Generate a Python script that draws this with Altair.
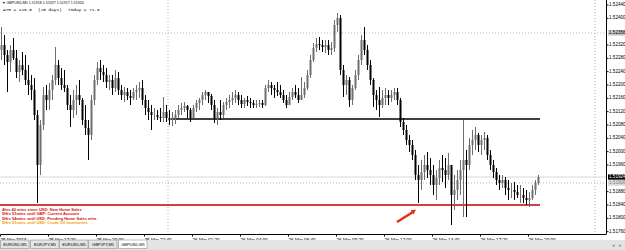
import json
import altair as alt
import pandas as pd

# ---------------- data ----------------
time_labels = ["25 Mar 2013", "25 Mar 16:00", "25 Mar 17:20", "25 Mar 18:40", "25 Mar 20:00",
               "25 Mar 21:20", "25 Mar 22:40", "26 Mar 00:00", "26 Mar 01:20", "26 Mar 02:40",
               "26 Mar 04:00", "26 Mar 05:20", "26 Mar 06:40", "26 Mar 08:00", "26 Mar 09:20",
               "26 Mar 10:40", "26 Mar 12:00", "26 Mar 13:20", "26 Mar 14:40", "26 Mar 16:00",
               "26 Mar 17:20", "26 Mar 18:40", "26 Mar 20:00"]
time_tick_pos = [0, 8, 16, 24, 32, 40, 48, 56, 64, 72, 80, 88, 96, 104, 112, 120,
                 128, 136, 144, 152, 160, 168, 176]
price_ticks = [1.52440, 1.52400, 1.52360, 1.52320, 1.52280, 1.52240, 1.52200, 1.52160,
               1.52120, 1.52080, 1.52040, 1.52000, 1.51960, 1.51920, 1.51880, 1.51840,
               1.51800, 1.51760]

first_open = 152305
high_pts = [
    152374, 152350, 152305, 152320, 152341, 152305, 152275, 152299, 152290, 152260,
    152230, 152221, 152125, 152095, 152194, 152200, 152206, 152230, 152314, 152275,
    152251, 152245, 152200, 152170, 152185, 152200, 152215, 152161, 152140, 152095,
    152170, 152230, 152269, 152275, 152260, 152251, 152230, 152230, 152245, 152239,
    152200, 152194, 152191, 152185, 152191, 152200, 152209, 152215, 152170, 152155,
    152140, 152131, 152125, 152131, 152164, 152140, 152125, 152119, 152125, 152140,
    152146, 152149, 152140, 152131, 152140, 152155, 152161, 152179, 152185, 152179,
    152173, 152155, 152131, 152155, 152149, 152161, 152170, 152179, 152185, 152179,
    152170, 152161, 152167, 152161, 152155, 152155, 152155, 152155, 152200, 152215,
    152209, 152200, 152209, 152200, 152185, 152170, 152179, 152191, 152200, 152191,
    152224, 152209, 152245, 152290, 152326, 152341, 152344, 152335, 152335, 152335,
    152329, 152395, 152416, 152410, 152260, 152230, 152224, 152200, 152245, 152290,
    152350, 152374, 152320, 152275, 152221, 152185, 152194, 152185, 152191, 152185,
    152185, 152191, 152191, 152161, 152101, 152080, 152050, 152035, 152005, 151960,
    151975, 151990, 151999, 151981, 151960, 151945, 151975, 151990, 151981, 151996,
    151960, 151930, 151945, 151975, 152095, 152005, 152041, 152065, 152074, 152056,
    152050, 152059, 152050, 152005, 151975, 151951, 151930, 151930, 151924, 151915,
    151906, 151909, 151900, 151900, 151891, 151885, 151879, 151900, 151915, 151930]
low_pts = [
    152275, 152260, 152179, 152239, 152275, 152221, 152209, 152230, 152200, 152170,
    152155, 152095, 151846, 151930, 152065, 152125, 152125, 152155, 152200, 152200,
    152185, 152179, 152125, 152074, 152101, 152110, 152140, 152080, 152050, 151975,
    152035, 152140, 152200, 152215, 152209, 152191, 152185, 152170, 152179, 152170,
    152155, 152149, 152155, 152140, 152155, 152155, 152161, 152140, 152110, 152095,
    152065, 152095, 152095, 152089, 152089, 152089, 152080, 152077, 152083, 152101,
    152110, 152119, 152101, 152089, 152110, 152119, 152125, 152140, 152155, 152146,
    152125, 152086, 152080, 152095, 152101, 152125, 152131, 152140, 152146, 152140,
    152131, 152131, 152137, 152131, 152131, 152131, 152134, 152131, 152137, 152179,
    152170, 152161, 152167, 152161, 152146, 152131, 152140, 152155, 152161, 152146,
    152155, 152161, 152185, 152221, 152269, 152299, 152305, 152299, 152296, 152290,
    152290, 152299, 152359, 152230, 152164, 152170, 152134, 152140, 152185, 152215,
    152260, 152290, 152245, 152200, 152134, 152125, 152104, 152131, 152140, 152140,
    152149, 152155, 152140, 152074, 152050, 152020, 151999, 151975, 151915, 151846,
    151885, 151915, 151921, 151900, 151870, 151855, 151900, 151909, 151891, 151915,
    151780, 151825, 151855, 151870, 151804, 151804, 151945, 151990, 152005, 151999,
    151990, 152005, 151975, 151945, 151921, 151900, 151885, 151891, 151870, 151855,
    151861, 151855, 151861, 151846, 151846, 151840, 151834, 151855, 151870, 151900]
close_pts = [
    152320, 152290, 152269, 152305, 152281, 152239, 152260, 152245, 152215, 152200,
    152185, 152110, 151960, 152080, 152170, 152155, 152185, 152215, 152260, 152221,
    152200, 152191, 152140, 152125, 152155, 152170, 152155, 152095, 152071, 152050,
    152155, 152215, 152251, 152239, 152230, 152209, 152215, 152191, 152221, 152185,
    152170, 152179, 152167, 152161, 152179, 152185, 152191, 152155, 152131, 152119,
    152110, 152110, 152104, 152101, 152119, 152101, 152095, 152101, 152110, 152125,
    152131, 152137, 152125, 152101, 152131, 152146, 152155, 152170, 152179, 152167,
    152140, 152101, 152119, 152110, 152140, 152149, 152155, 152161, 152170, 152155,
    152143, 152155, 152149, 152146, 152140, 152143, 152146, 152140, 152191, 152200,
    152191, 152185, 152179, 152170, 152155, 152140, 152164, 152179, 152170, 152155,
    152170, 152191, 152230, 152275, 152311, 152323, 152320, 152314, 152320, 152305,
    152311, 152380, 152401, 152245, 152200, 152215, 152155, 152191, 152230, 152275,
    152335, 152305, 152260, 152215, 152170, 152155, 152140, 152161, 152170, 152161,
    152170, 152179, 152155, 152089, 152065, 152035, 152020, 151990, 151930, 151915,
    151939, 151960, 151945, 151930, 151900, 151921, 151951, 151945, 151930, 151960,
    151870, 151885, 151915, 151945, 151975, 151960, 152020, 152035, 152050, 152020,
    152035, 152041, 151990, 151960, 151939, 151915, 151906, 151915, 151891, 151885,
    151885, 151879, 151870, 151870, 151861, 151855, 151861, 151885, 151906, 151924]

red_level = 1.51840
black_level = 1.52098
black_span = [57, 180]
dotted_level = 1.52356
bid_level = 1.51924
second_level = 1.51906
vlines = [56, 198.3]

news_lines = ["4hrs 42 mins since USD: New Home Sales",
              "5Hrs 51mins until GBP: Current Account",
              "5Hrs 54mins until USD: Pending Home Sales m/m",
              "5Hrs 51mins until USD: Crude Oil Inventories"]
news_colors = ["#d01010", "#d01010", "#d01010", "#f0a000"]
tabs = ["EURUSD,M5", "EURJPY,M5", "EURUSD,M5", "GBPJPY,M5", "GBPUSD,M5"]

# ---------------- table ----------------
opens = [first_open] + close_pts[:-1]
df = pd.DataFrame({
    "xc": [i + 0.5 for i in range(len(close_pts))],
    "open": [v / 1e5 for v in opens],
    "close": [v / 1e5 for v in close_pts],
    "high": [v / 1e5 for v in high_pts],
    "low": [v / 1e5 for v in low_pts],
})
df["dir"] = ["up" if c >= o else "down" for o, c in zip(df["open"], df["close"])]

FONT = "Liberation Sans"
W, H = 606, 234
xs = alt.Scale(domain=[0, 202], nice=False, zero=False)
ys = alt.Scale(domain=[1.51753, 1.52455], nice=False, zero=False)

xaxis = alt.Axis(values=time_tick_pos, labelExpr=f"{json.dumps(time_labels)}[round(datum.value/8)]",
                 orient="bottom", labelAlign="left", labelFontSize=4.6, labelFont=FONT,
                 tickSize=2, labelPadding=1, grid=False, title=None, labelFlush=False,
                 labelOverlap=False, domainColor="#000", tickColor="#000", labelColor="#000")

color = alt.Color("dir:N", scale=alt.Scale(domain=["up", "down"], range=["#6e6e6e", "#000000"]),
                  legend=None)

wick = alt.Chart(df).mark_rule(strokeWidth=1).encode(
    x=alt.X("xc:Q", scale=xs, axis=xaxis),
    y=alt.Y("low:Q", scale=ys, axis=None),
    y2="high:Q", color=color)
body = alt.Chart(df).mark_rule(strokeWidth=2).encode(
    x=alt.X("xc:Q", scale=xs), y=alt.Y("open:Q", scale=ys, axis=None), y2="close:Q", color=color)

one = pd.DataFrame({"a": [0]})

hdot = alt.Chart(pd.DataFrame({"y": [dotted_level, second_level]})).mark_rule(
    color="#b8b8b8", strokeWidth=1, strokeDash=[1, 2]).encode(
    y=alt.Y("y:Q", scale=ys, axis=None), x=alt.value(0), x2=alt.value(W))
hbid = alt.Chart(pd.DataFrame({"y": [bid_level]})).mark_rule(
    color="#d8d8d8", strokeWidth=1).encode(
    y=alt.Y("y:Q", scale=ys, axis=None), x=alt.value(0), x2=alt.value(W))
vdot = alt.Chart(pd.DataFrame({"x": vlines})).mark_rule(
    color="#b0b0b0", strokeWidth=1, strokeDash=[1, 2]).encode(
    x=alt.X("x:Q", scale=xs), y=alt.value(0), y2=alt.value(H))
red = alt.Chart(pd.DataFrame({"y": [red_level], "x1": [0], "x2": [black_span[1]]})).mark_rule(
    color="#c00000", strokeWidth=1.3).encode(
    y=alt.Y("y:Q", scale=ys, axis=None), x=alt.X("x1:Q", scale=xs), x2="x2:Q")
black = alt.Chart(pd.DataFrame({"y": [black_level], "x1": [black_span[0]], "x2": [black_span[1]]})).mark_rule(
    color="#000000", strokeWidth=1.5).encode(
    y=alt.Y("y:Q", scale=ys, axis=None), x=alt.X("x1:Q", scale=xs), x2="x2:Q")

# right price scale drawn by hand (axis line, ticks, labels)
tag_prices = [dotted_level, second_level, bid_level]
shown_ticks = [t for t in price_ticks if all(abs(t - p) > 0.00012 for p in tag_prices)]
tick_df = pd.DataFrame({"p": shown_ticks})
tick_df["label"] = [f"{v:.5f}" for v in tick_df["p"]]
axis_line = alt.Chart(one).mark_rule(color="#000", strokeWidth=1).encode(
    x=alt.value(W + 0.5), y=alt.value(0), y2=alt.value(H))
tick_marks = alt.Chart(tick_df).mark_rule(color="#000", strokeWidth=1).encode(
    y=alt.Y("p:Q", scale=ys, axis=None), x=alt.value(W + 0.5), x2=alt.value(W + 2.5))
tick_text = alt.Chart(tick_df).mark_text(align="left", baseline="middle", fontSize=4.6,
                                         font=FONT, color="#000").encode(
    y=alt.Y("p:Q", scale=ys, axis=None), x=alt.value(W + 3), text="label:N")

# price tags on the axis
tags = pd.DataFrame({
    "p": tag_prices,
    "fill": ["#c8c8c8", "#d8d8d8", "#000000"],
    "tc": ["#000000", "#888888", "#ffffff"],
})
tags["label"] = [f"{v:.5f}" for v in tags["p"]]
tag_rect = alt.Chart(tags).transform_calculate(
    top="datum.p + 0.00008", bot="datum.p - 0.00008").mark_rect().encode(
    y=alt.Y("top:Q", scale=ys, axis=None), y2="bot:Q", x=alt.value(W + 2), x2=alt.value(W + 19),
    color=alt.Color("fill:N", scale=None))
tag_text = alt.Chart(tags).mark_text(align="left", baseline="middle", fontSize=4.6, font=FONT).encode(
    y=alt.Y("p:Q", scale=ys, axis=None), x=alt.value(W + 3), text="label:N",
    color=alt.Color("tc:N", scale=None))


def txt(s, x, y, size=4.5, color="#000", font=FONT, weight="normal", align="left"):
    return alt.Chart(one).mark_text(text=s, fontSize=size, color=color, font=font,
                                    fontWeight=weight, align=align, baseline="middle").encode(
        x=alt.value(x), y=alt.value(y))


def rect(x1, x2, y1, y2, fill, stroke=None):
    kw = {"fill": fill}
    if stroke:
        kw["stroke"] = stroke
        kw["strokeWidth"] = 0.6
    return alt.Chart(one).mark_rect(**kw).encode(
        x=alt.value(x1), x2=alt.value(x2), y=alt.value(y1), y2=alt.value(y2))


layers = [vdot, hdot, hbid, red, black, wick, body, axis_line, tick_marks, tick_text,
          tag_rect, tag_text]

# header texts
layers.append(txt("\u25bc GBPUSD,M5  1.51918 1.51927 1.51917 1.51924", 2, 2.5, size=3.6))
layers.append(txt("ATR = 116.0", 3, 10, size=4.4, font="Liberation Mono"))
layers.append(txt("(20 days)", 38, 10, size=4.4, font="Liberation Mono"))
layers.append(txt("Today = 71.6", 68, 10, size=4.4, font="Liberation Mono"))

# news lines
for k, (s, c) in enumerate(zip(news_lines, news_colors)):
    layers.append(txt(s, 2, 210 + 4.3 * k, size=4.0, color=c, weight="bold"))

# arrow
layers.append(alt.Chart(one).mark_rule(color="#e03020", strokeWidth=2.5).encode(
    x=alt.value(397), x2=alt.value(413), y=alt.value(222), y2=alt.value(212)))
layers.append(alt.Chart(one).mark_point(shape="triangle-up", filled=True, size=28, angle=58,
                                        color="#e03020", opacity=1).encode(
    x=alt.value(414), y=alt.value(211)))

# tab bar
layers.append(rect(0, 625, 240, 250, "#e4e4e4"))
tab_x = [0, 30, 59, 88, 118]
tab_w = 29
for k, name in enumerate(tabs):
    active = k == len(tabs) - 1
    layers.append(rect(tab_x[k] + 0.5, tab_x[k] + tab_w, 240, 248.5,
                       "#ffffff" if active else "#e4e4e4", "#909090"))
    layers.append(txt(name, tab_x[k] + tab_w / 2 + 0.5, 244.5, size=4.0, align="center"))
layers.append(txt("\u25c2", 612, 245, size=5, color="#888"))
layers.append(txt("\u25b8", 619, 245, size=5, color="#888"))

chart = alt.layer(*layers).properties(
    width=W, height=H,
    autosize=alt.AutoSizeParams(type="none"),
    padding={"left": 0, "top": 0, "right": 19, "bottom": 16},
    background="white",
).configure_view(stroke=None)

chart.save("out.html", embed_options={"renderer": "svg", "actions": False})
